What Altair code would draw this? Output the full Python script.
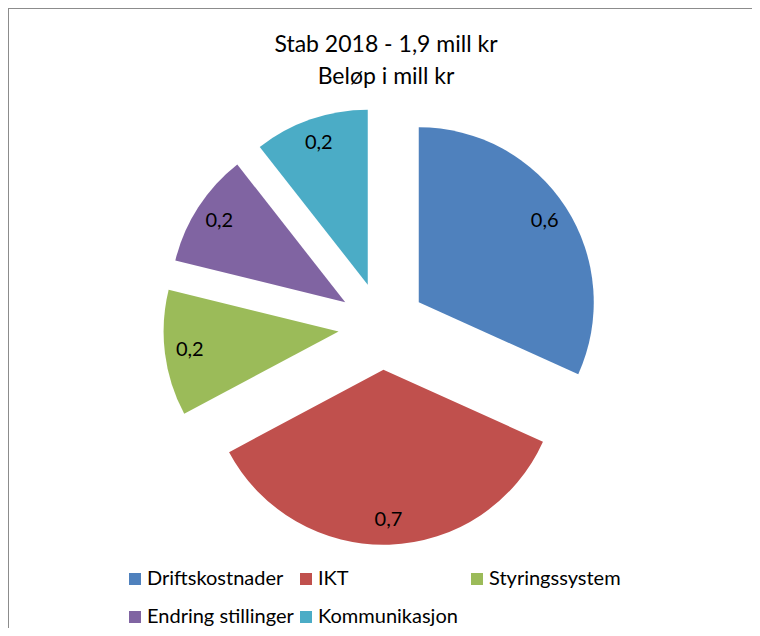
import math
import altair as alt
import pandas as pd

# ---- data ----
categories = ["Driftskostnader", "IKT", "Styringssystem", "Endring stillinger", "Kommunikasjon"]
values = [0.6, 0.67, 0.22, 0.2, 0.2]
colors = ["#4F81BD", "#C0504D", "#9BBB59", "#8064A2", "#4BACC6"]
title_lines = ["Stab 2018 - 1,9 mill kr", "Beløp i mill kr"]

df = pd.DataFrame({
    "kategori": categories,
    "verdi": values,
    "rekkefolge": list(range(len(categories))),
})

# ---- layout ----
W, H = 744, 620
R = 175            # pie radius in px
CX, CY = 374, 318  # pie centre in px
EXPLODE = 0.25     # explode distance as fraction of radius
LABEL_R = 0.857    # label distance from slice apex, fraction of radius
FONT = "Lato"

xs = alt.Scale(domain=[-CX / R, (W - CX) / R], range=[0, W], nice=False, zero=False)
ys = alt.Scale(domain=[-(H - CY) / R, CY / R], range=[H, 0], nice=False, zero=False)

base = (
    alt.Chart(df)
    .transform_joinaggregate(total="sum(verdi)")
    .transform_window(cum="sum(verdi)", sort=[alt.SortField("rekkefolge")], frame=[None, 0])
    .transform_calculate(f0="(datum.cum - datum.verdi) / datum.total")
    .transform_calculate(f1="datum.cum / datum.total")
    .transform_calculate(mid="PI * (datum.f0 + datum.f1)")
    .transform_calculate(ex=f"{EXPLODE} * sin(datum.mid)")
    .transform_calculate(ey=f"{EXPLODE} * cos(datum.mid)")
    .transform_calculate(lx=f"datum.ex + {LABEL_R} * sin(datum.mid)")
    .transform_calculate(ly=f"datum.ey + {LABEL_R} * cos(datum.mid)")
    .transform_calculate(etikett="replace(format(datum.verdi, '.1f'), '.', ',')")
)

arcs = base.mark_arc(radius=R).encode(
    x=alt.X("ex:Q", scale=xs, axis=None),
    y=alt.Y("ey:Q", scale=ys, axis=None),
    theta=alt.Theta("f0:Q", scale=alt.Scale(domain=[0, 1], range=[0, 2 * math.pi]), stack=False),
    theta2=alt.Theta2("f1:Q"),
    color=alt.Color(
        "kategori:N",
        sort=categories,
        scale=alt.Scale(domain=categories, range=colors),
        legend=alt.Legend(
            title=None,
            orient="none",
            direction="horizontal",
            legendX=117,
            legendY=561,
            columns=3,
            gridAlign="all",
            symbolType="square",
            symbolSize=144,
            symbolStrokeWidth=0,
            labelFont=FONT,
            labelFontSize=20,
            labelColor="black",
            labelOffset=2,
            labelLimit=400,
            columnPadding=2,
            rowPadding=18,
            padding=0,
        ),
    ),
)

labels = base.mark_text(font=FONT, fontSize=20, color="black").encode(
    x=alt.X("lx:Q", scale=xs, axis=None),
    y=alt.Y("ly:Q", scale=ys, axis=None),
    text=alt.Text("etikett:N"),
)

border_left = alt.Chart(alt.Data(values=[{}])).mark_rule(color="#8c8c8c", strokeWidth=2).encode(
    x=alt.value(0), y=alt.value(0), y2=alt.value(H)
)
border_top = alt.Chart(alt.Data(values=[{}])).mark_rule(color="#8c8c8c", strokeWidth=2).encode(
    x=alt.value(0), x2=alt.value(W), y=alt.value(0)
)

chart = (
    alt.layer(border_left, border_top, arcs, labels)
    .properties(
        width=W,
        height=H,
        padding=0,
        autosize=alt.AutoSizeParams(type="none"),
        title=alt.TitleParams(
            text=title_lines,
            anchor="middle",
            font=FONT,
            fontSize=23,
            fontWeight="normal",
            color="black",
            baseline="alphabetic",
            lineHeight=32,
            offset=-100,
            dx=6,
        ),
    )
    .configure_view(stroke="transparent")
    .configure(background="white")
)

chart.save("out.html", embed_options={"renderer": "svg", "actions": False})
